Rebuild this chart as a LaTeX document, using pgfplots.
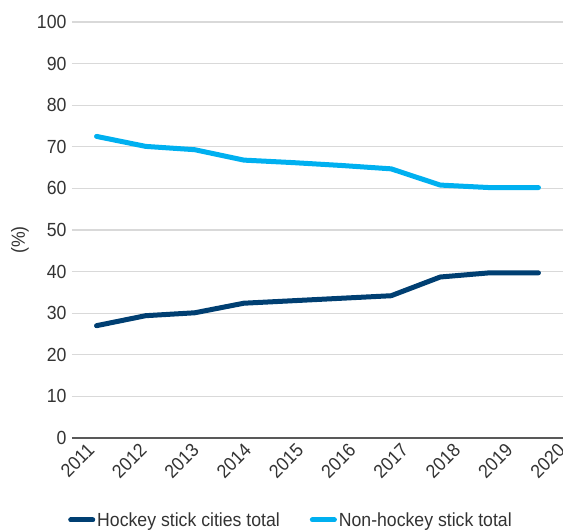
\documentclass[border=0pt]{standalone}
\usepackage{pgfplots}
\pgfplotsset{compat=1.18}
\usepackage{fontspec}
\setmainfont{Liberation Sans}[FakeStretch=0.93]
\definecolor{navy}{HTML}{003F72}
\definecolor{sky}{HTML}{00B0F0}
\definecolor{gridgray}{HTML}{D9D9D9}
\definecolor{axisgray}{HTML}{595959}
\definecolor{txt}{HTML}{333333}
\begin{document}
\begin{tikzpicture}
\path[use as bounding box] (0pt,0pt) rectangle (563pt,531pt);
\begin{axis}[
  at={(72pt,93pt)}, anchor=south west,
  scale only axis, width=491pt, height=416pt,
  xmin=-0.5, xmax=9.5, ymin=0, ymax=100,
  ytick={0,10,...,100},
  xtick={-0.195,0.87,1.935,3.0,4.065,5.13,6.195,7.26,8.325,9.39},
  xticklabels={2011,2012,2013,2014,2015,2016,2017,2018,2019,2020},
  axis x line*=bottom, axis y line*=left,
  x axis line style={draw=axisgray, line width=1.6pt, -},
  y axis line style={draw=none},
  major tick length=0pt,
  ymajorgrids, grid style={gridgray, line width=1.2pt},
  tick label style={font=\fontsize{19}{22}\selectfont, text=txt},
  /pgf/number format/assume math mode=true,
  x tick label style={rotate=45, anchor=east, xshift=0pt, yshift=-9pt},
  yticklabel style={xshift=-2pt},
  ylabel={(\%)},
  ylabel style={font=\fontsize{19}{22}\selectfont, text=txt, at={(axis description cs:-0.106,0.476)}, anchor=center},
  legend style={at={(0.446,-0.197)}, anchor=center, draw=none, fill=none,
    font=\fontsize{19}{22}\selectfont, text=txt,
    /tikz/every even column/.append style={column sep=28pt}},
  legend columns=2,
  legend cell align=left,
  legend image code/.code={\draw[#1, line width=5pt, line cap=round] (0pt,0pt) -- (22pt,0pt);},
  clip=false,
]
\addplot[navy, line width=5pt, line join=round, line cap=round] coordinates {
(0,27.0) (1,29.4) (2,30.1) (3,32.4) (4,33.0) (5,33.6) (6,34.2) (7,38.7) (8,39.7) (9,39.7)};
\addlegendentry{Hockey stick cities total}
\addplot[sky, line width=5pt, line join=round, line cap=round] coordinates {
(0,72.5) (1,70.1) (2,69.3) (3,66.8) (4,66.2) (5,65.5) (6,64.7) (7,60.8) (8,60.2) (9,60.2)};
\addlegendentry{Non-hockey stick total}
\end{axis}
\end{tikzpicture}
\end{document}
